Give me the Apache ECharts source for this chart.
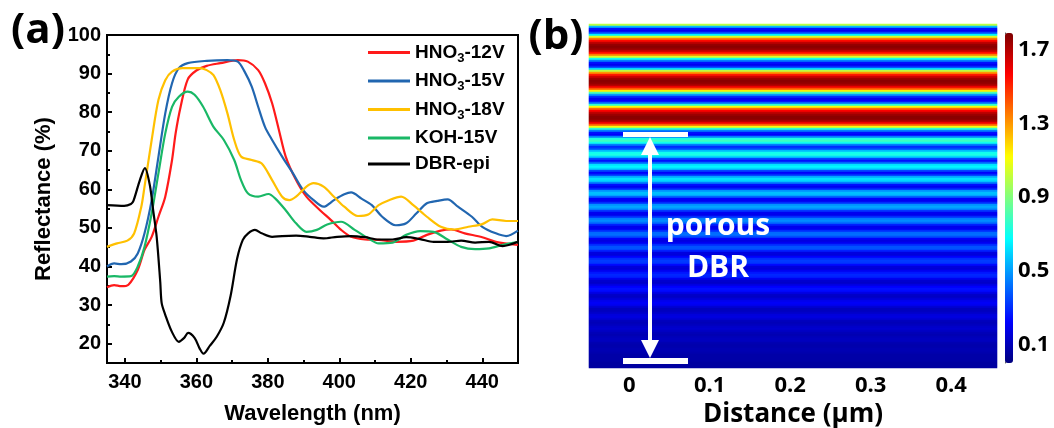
<!DOCTYPE html>
<html>
<head>
<meta charset="utf-8">
<script src="https://cdn.jsdelivr.net/npm/echarts@6/dist/echarts.min.js"></script>
<style>
  html, body { margin: 0; padding: 0; background: #fff; }
  #chart { width: 1054px; height: 428px; }
</style>
</head>
<body>
<div id="chart"></div>
<script>
// ---- (a) reflectance spectra: wavelength (nm) / reflectance (%) ----
const wl12 = [335, 337, 339, 341, 343.6, 345.5, 347.5, 349.4, 351.3, 353.2, 354.2, 355.6, 357.6, 360, 362.9, 366.7, 371.6, 374.4, 377.3, 379.2, 381.2, 383.1, 385, 387.9, 390.8, 394.6, 397.6, 400.5, 403.3, 407.2, 411, 415.8, 420.7, 424.5, 428.4, 431.3, 435.1, 440, 443.8, 450];
const r12 = [34.6, 35.2, 34.9, 35.3, 39.1, 44.3, 47.7, 52.9, 58.1, 67.6, 74.5, 81.4, 88.5, 90.8, 92.0, 92.7, 93.5, 93.1, 90.9, 87.5, 82.3, 75.4, 68.5, 62.4, 58.1, 54.6, 52.1, 49.5, 47.7, 47.0, 46.9, 46.4, 46.7, 48.2, 49.3, 49.6, 48.6, 47.6, 46.4, 45.6];

const wl15 = [335, 337, 339, 341.7, 343.6, 345.5, 347.5, 349.4, 351.3, 353.2, 355.1, 357.6, 362.9, 368.7, 371.6, 373.5, 375.5, 377.3, 379.2, 381.2, 384, 387, 389.9, 392.8, 395.6, 398.5, 401.4, 403.3, 406.2, 409.1, 412, 415.8, 418.7, 421.6, 424.5, 427.4, 430.3, 433.2, 437.1, 440, 443.8, 446.7, 450];
const r15 = [40.0, 40.8, 40.6, 41.3, 43.4, 48.6, 57.2, 68.5, 79.7, 87.5, 91.4, 92.7, 93.3, 93.5, 93.1, 90.5, 86.6, 81.4, 76.2, 72.8, 68.5, 64.2, 59.8, 57.2, 55.5, 57.2, 58.7, 59.2, 57.6, 55.9, 52.9, 50.7, 51.2, 53.8, 56.4, 57.0, 57.4, 55.5, 52.9, 50.3, 48.6, 47.9, 49.3];

const wl18 = [335, 337.8, 340.7, 342.6, 344.6, 345.5, 347.5, 349.4, 351.3, 353.2, 356.1, 360.9, 362.9, 364.8, 366.7, 368.7, 370.6, 372.5, 375.5, 378.3, 381.2, 384, 386, 387.9, 390.8, 392.8, 395.6, 398.5, 401.4, 405.2, 408.1, 411, 413.9, 417.3, 420.7, 424.5, 428.4, 432.2, 436.1, 440, 442.8, 446.7, 450];
const r18 = [45.1, 46.0, 46.7, 48.6, 55.5, 60.7, 72.8, 83.2, 88.3, 90.5, 91.4, 91.4, 90.9, 89.6, 85.7, 79.7, 72.8, 68.5, 67.6, 66.7, 62.4, 58.1, 57.2, 58.1, 60.7, 61.6, 60.7, 58.1, 55.5, 53.1, 53.5, 55.9, 57.2, 58.1, 55.9, 52.9, 50.3, 49.6, 50.3, 51.0, 52.2, 51.8, 51.8];

const wlKoh = [335, 337, 339, 341.7, 343.6, 345.5, 347.5, 349.4, 351.3, 353.2, 355.1, 357.6, 359.5, 361.9, 364.8, 367.7, 370.6, 372.5, 374.4, 377.3, 380.2, 382.1, 385, 387.9, 390.8, 393.7, 396.6, 400.5, 404.3, 408.1, 411, 414.9, 418.7, 422.6, 426.4, 430.3, 434.1, 438, 441.9, 445.7, 450];
const rKoh = [37.4, 37.5, 37.4, 37.5, 40.0, 45.1, 53.8, 64.2, 74.5, 81.4, 84.0, 85.3, 84.5, 81.4, 76.2, 72.8, 67.6, 62.4, 59.0, 58.1, 58.8, 57.6, 54.6, 51.2, 49.0, 49.5, 50.9, 51.6, 49.5, 47.3, 46.0, 46.2, 48.2, 49.2, 49.0, 47.0, 45.1, 44.5, 44.7, 45.6, 46.4];

const wlEpi = [335, 339.8, 341.7, 342.4, 344.2, 345.6, 347, 348, 348.9, 349.9, 350.3, 351.3, 353.2, 355.1, 356.6, 357.7, 359.5, 360.9, 362, 363.8, 365.7, 367.7, 369.6, 371.4, 373, 374.5, 376.4, 378.3, 381.2, 384, 387.9, 391.7, 395.6, 399.4, 403.3, 407.2, 411, 414.9, 418.7, 422.6, 426.4, 430.3, 434.1, 438, 441.9, 445.7, 450];
const rEpi = [55.9, 55.7, 56.2, 57.0, 62.4, 65.5, 61.0, 54.0, 47.7, 36.0, 30.5, 27.5, 23.0, 20.5, 21.5, 22.8, 21.5, 18.8, 17.4, 19.5, 21.8, 25.5, 32.5, 42.0, 46.9, 48.6, 49.5, 48.6, 47.7, 47.9, 48.0, 47.7, 47.3, 47.7, 47.9, 47.6, 47.0, 47.0, 47.6, 47.1, 46.4, 46.4, 46.7, 46.2, 46.4, 45.3, 46.4];

const seriesNames = ['HNO3-12V', 'HNO3-15V', 'HNO3-18V', 'KOH-15V', 'DBR-epi'];
const seriesColors = ['#ff1a1a', '#2166b0', '#ffc000', '#19b866', '#000000'];
const wlTicks = [340, 360, 380, 400, 420, 440];
const wlMinorTicks = [350, 370, 390, 410, 430];
const reflTicks = [20, 30, 40, 50, 60, 70, 80, 90, 100];
const reflMinorTicks = [25, 35, 45, 55, 65, 75, 85, 95];

// ---- (b) field map: one value per 2 px row, top to bottom ----
const fieldProfile = [
  1.0, 0.55, 0.25, 0.2, 0.35, 0.65, 1.05, 1.35, 1.55, 1.68,
  1.75, 1.77, 1.75, 1.68, 1.55, 1.35, 1.05, 0.7, 0.45, 0.25,
  0.2, 0.3, 0.6, 1.0, 1.3, 1.52, 1.65, 1.73, 1.77, 1.76,
  1.72, 1.6, 1.42, 1.15, 0.8, 0.5, 0.3, 0.2, 0.22, 0.4,
  0.75, 1.1, 1.38, 1.57, 1.68, 1.74, 1.77, 1.77, 1.72, 1.6,
  1.4, 1.1, 0.75, 0.45, 0.25, 0.22, 0.45, 0.72, 0.78, 0.7,
  0.45, 0.3, 0.35, 0.55, 0.7, 0.72, 0.6, 0.35, 0.25, 0.4,
  0.62, 0.66, 0.6, 0.35, 0.22, 0.3, 0.52, 0.62, 0.6, 0.45,
  0.25, 0.2, 0.28, 0.48, 0.56, 0.55, 0.4, 0.22, 0.2, 0.3,
  0.48, 0.52, 0.48, 0.32, 0.2, 0.19, 0.3, 0.44, 0.47, 0.42,
  0.28, 0.19, 0.2, 0.3, 0.41, 0.42, 0.36, 0.22, 0.17, 0.2,
  0.3, 0.37, 0.37, 0.28, 0.17, 0.16, 0.22, 0.3, 0.33, 0.32,
  0.24, 0.16, 0.15, 0.2, 0.26, 0.29, 0.28, 0.2, 0.14, 0.13,
  0.17, 0.22, 0.25, 0.24, 0.18, 0.13, 0.12, 0.15, 0.19, 0.21,
  0.2, 0.15, 0.11, 0.11, 0.13, 0.16, 0.17, 0.15, 0.11, 0.1,
  0.11, 0.13, 0.14, 0.12, 0.1, 0.09, 0.1, 0.11, 0.11, 0.09,
  0.08, 0.08, 0.09, 0.09, 0.08, 0.07, 0.07, 0.07, 0.07, 0.06,
  0.06, 0.06
];
const distanceCols = ['all'];
const distTicks = [0, 0.1, 0.2, 0.3, 0.4];
const cbTicks = [0.1, 0.5, 0.9, 1.3, 1.7];
const cbMinorTicks = [0.3, 0.7, 1.1, 1.5];
const jet = ['#00007f', '#0000ff', '#007fff', '#00ffff', '#7fff7f', '#ffff00', '#ff7f00', '#ff0000', '#7f0000'];

const fontA = '"Liberation Sans", Arial, sans-serif';
const fontB = '"Open Sans", "Liberation Sans", sans-serif';

const chart = echarts.init(document.getElementById('chart'));

const lineData = [[wl12, r12], [wl15, r15], [wl18, r18], [wlKoh, rKoh], [wlEpi, rEpi]];
const lineSeries = lineData.map(function (d, i) {
  return {
    name: seriesNames[i],
    type: 'line',
    xAxisIndex: 0,
    yAxisIndex: 0,
    symbol: 'none',
    smooth: 0.3,
    data: d[0].map(function (x, k) { return [x, d[1][k]]; }),
    lineStyle: { color: seriesColors[i], width: 2.2 },
    itemStyle: { color: seriesColors[i] },
    z: 3 + i
  };
});

const heatData = [];
distanceCols.forEach(function (c, ci) {
  fieldProfile.forEach(function (v, ri) { heatData.push([ci, ri, v]); });
});

const option = {
  backgroundColor: '#fff',
  animation: false,
  grid: [
    { left: 107, top: 35, width: 411, height: 328, show: true, borderColor: '#000', borderWidth: 2, containLabel: false, outerBoundsMode: 'none' },
    { left: 589, top: 24, width: 408, height: 344, containLabel: false, outerBoundsMode: 'none' },
    { left: 1005, top: 33, width: 8, height: 330, containLabel: false, outerBoundsMode: 'none' }
  ],
  xAxis: [
    {
      gridIndex: 0, type: 'value', min: 335, max: 450, position: 'bottom',
      axisLine: { lineStyle: { color: '#000', width: 2 } },
      axisTick: { inside: true, length: 5, lineStyle: { width: 2, color: '#000' }, customValues: wlTicks },
      axisLabel: { customValues: wlTicks, color: '#000', fontSize: 20, fontWeight: 'bold', fontFamily: fontA, margin: 9 },
      splitLine: { show: false },
      name: 'Wavelength (nm)', nameLocation: 'middle', nameGap: 40,
      nameTextStyle: { color: '#000', fontSize: 22, fontWeight: 'bold', fontFamily: fontA }
    },
    {
      gridIndex: 0, type: 'value', min: 335, max: 450, position: 'bottom',
      axisLine: { show: false },
      axisTick: { inside: true, length: 3, lineStyle: { width: 2, color: '#000' }, customValues: wlMinorTicks },
      axisLabel: { show: false },
      splitLine: { show: false }
    },
    { gridIndex: 1, type: 'category', data: distanceCols, show: false, position: 'top' },
    {
      gridIndex: 1, type: 'value', min: -0.05, max: 0.457, position: 'bottom',
      axisLine: { show: false }, axisTick: { show: false }, splitLine: { show: false },
      axisLabel: {
        customValues: distTicks, color: '#000', fontSize: 22, fontWeight: 'bold', fontFamily: fontB, margin: 7,
        formatter: function (v) { return v === 0 ? '0' : v.toFixed(1); }
      },
      name: 'Distance (µm)', nameLocation: 'middle', nameGap: 28,
      nameTextStyle: { color: '#000', fontSize: 26, fontWeight: 'bold', fontFamily: fontB }
    },
    { gridIndex: 2, type: 'value', min: 0, max: 1, show: false }
  ],
  yAxis: [
    {
      gridIndex: 0, type: 'value', min: 15, max: 100, position: 'left',
      axisLine: { lineStyle: { color: '#000', width: 2 } },
      axisTick: { inside: true, length: 5, lineStyle: { width: 2, color: '#000' }, customValues: reflTicks },
      axisLabel: { customValues: reflTicks, color: '#000', fontSize: 20, fontWeight: 'bold', fontFamily: fontA, margin: 6 },
      splitLine: { show: false },
      name: 'Reflectance (%)', nameLocation: 'middle', nameGap: 52,
      nameTextStyle: { color: '#000', fontSize: 22, fontWeight: 'bold', fontFamily: fontA }
    },
    {
      gridIndex: 0, type: 'value', min: 15, max: 100, position: 'left',
      axisLine: { show: false },
      axisTick: { inside: true, length: 3, lineStyle: { width: 2, color: '#000' }, customValues: reflMinorTicks },
      axisLabel: { show: false },
      splitLine: { show: false }
    },
    { gridIndex: 1, type: 'category', inverse: true, data: fieldProfile.map(function (v, i) { return i; }), show: false },
    {
      gridIndex: 2, type: 'value', min: 0, max: 1.79, position: 'right',
      axisLine: { show: true, lineStyle: { color: '#555', width: 1 } },
      axisTick: { length: 4, lineStyle: { color: '#222', width: 1.5 }, customValues: cbTicks },
      axisLabel: {
        customValues: cbTicks, color: '#000', fontSize: 22, fontWeight: 'bold', fontFamily: fontB, margin: 5,
        formatter: function (v) { return v.toFixed(1); }
      },
      splitLine: { show: false }
    },
    {
      gridIndex: 2, type: 'value', min: 0, max: 1.79, position: 'right',
      axisLine: { show: false },
      axisTick: { inside: true, length: 4, lineStyle: { color: '#222', width: 1.5 }, customValues: cbMinorTicks },
      axisLabel: { show: false },
      splitLine: { show: false }
    }
  ],
  legend: {
    orient: 'vertical', left: 368, top: 43, padding: 0, itemGap: 7,
    icon: 'rect', itemWidth: 42, itemHeight: 3,
    data: seriesNames,
    formatter: function (name) {
      if (name.indexOf('HNO3') === 0) return '{t|HNO}{s|3}{t|' + name.slice(4) + '}';
      return '{t|' + name + '}';
    },
    textStyle: {
      color: '#000', fontSize: 19, fontWeight: 'bold', fontFamily: fontA,
      rich: {
        t: { fontSize: 19, fontWeight: 'bold', fontFamily: fontA, lineHeight: 24, color: '#000' },
        s: { fontSize: 13, fontWeight: 'bold', fontFamily: fontA, lineHeight: 10, verticalAlign: 'bottom', color: '#000' }
      }
    }
  },
  visualMap: {
    type: 'continuous', min: 0, max: 1.79, seriesIndex: 5, calculable: false,
    orient: 'vertical', left: 1005, top: 33, itemWidth: 8, itemHeight: 330, padding: 0,
    inRange: { color: jet }, text: null, hoverLink: false
  },
  series: lineSeries.concat([{
    type: 'heatmap', xAxisIndex: 2, yAxisIndex: 2, data: heatData,
    emphasis: { disabled: true }, z: 2
  }]),
  graphic: [
    { type: 'text', x: 38, y: 31, z: 100, style: { text: '(a)', font: 'bold 42px ' + fontB, fill: '#000', align: 'center', verticalAlign: 'middle', textAlign: 'center', textVerticalAlign: 'middle' } },
    { type: 'text', x: 556, y: 37, z: 100, style: { text: '(b)', font: 'bold 42px ' + fontB, fill: '#000', align: 'center', verticalAlign: 'middle', textAlign: 'center', textVerticalAlign: 'middle' } },
    { type: 'rect', z: 100, shape: { x: 623, y: 132, width: 65, height: 5 }, style: { fill: '#fff' } },
    { type: 'rect', z: 100, shape: { x: 623, y: 358, width: 65, height: 6 }, style: { fill: '#fff' } },
    { type: 'line', z: 100, shape: { x1: 650, y1: 150, x2: 650, y2: 344 }, style: { stroke: '#fff', lineWidth: 4 } },
    { type: 'polygon', z: 100, shape: { points: [[650, 137], [641, 155], [659, 155]] }, style: { fill: '#fff' } },
    { type: 'polygon', z: 100, shape: { points: [[650, 358], [641, 340], [659, 340]] }, style: { fill: '#fff' } },
    { type: 'text', x: 718, y: 226, z: 100, style: { text: 'porous', font: 'bold 30px ' + fontB, fill: '#fff', align: 'center', verticalAlign: 'middle', textAlign: 'center', textVerticalAlign: 'middle' } },
    { type: 'text', x: 718, y: 268, z: 100, style: { text: 'DBR', font: 'bold 30px ' + fontB, fill: '#fff', align: 'center', verticalAlign: 'middle', textAlign: 'center', textVerticalAlign: 'middle' } }
  ]
};

chart.setOption(option);
</script>
</body>
</html>
